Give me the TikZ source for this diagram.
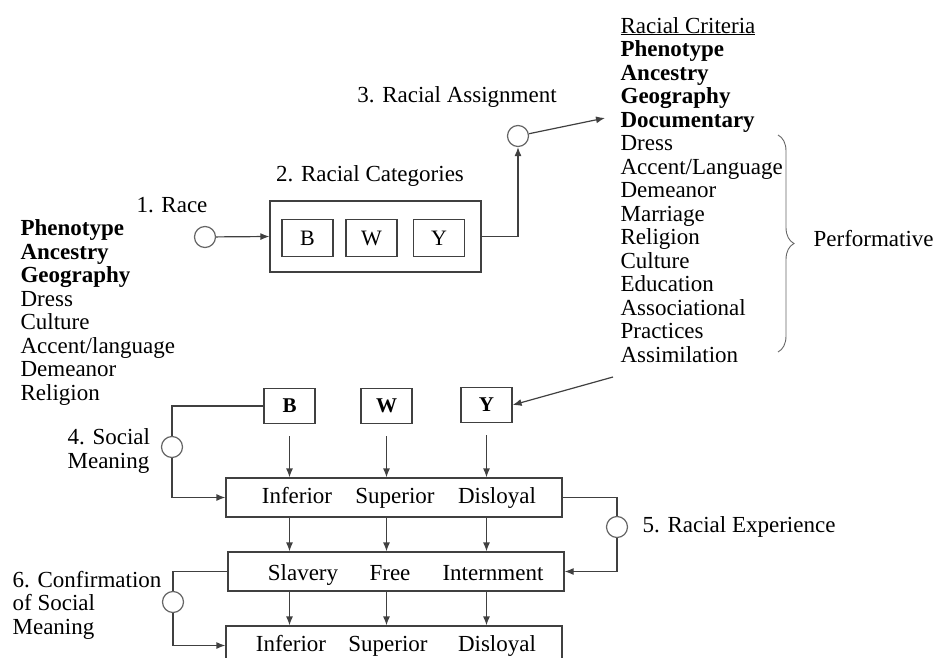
\documentclass[tikz,border=0pt]{standalone}
\usepackage{fontspec}
\setmainfont{Liberation Serif}
\usetikzlibrary{arrows.meta,decorations.pathreplacing}

\begin{document}
\begin{tikzpicture}[
  x = 1pt, y = -1pt,
  font = \fontsize{23}{23.5}\selectfont,
  ring/.style = {
    shape = circle,
    draw = black!60,
    minimum size = 21pt,
    inner sep = 0pt,
  },
  box/.style = {
    shape = rectangle,
    draw = black!75,
    inner sep = 0pt,
  },
  letter/.style = {
    box,
    minimum width = 51pt,
    minimum height = 37pt,
    font = \fontsize{22}{22}\selectfont
  },
  bar/.style = {
    box,
    minimum width = 336pt,
    minimum height = 39pt
  },
  lbl/.style = {
    inner sep = 0pt,
    align = left
  },
  link/.style = {
    draw = black!75
  },
  arr/.style = {
    link,
    -{Latex[length = 9pt, width = 7pt]}
  },
  every path/.style = {
    line width = 1.2pt
  }
]
  \useasboundingbox (0, 0) rectangle (937, 658);

  % 1. race
  \node[ring] (c1) at (205, 237) {};
  \node[lbl] (t1) at (172, 205) {1. Race};
  \node[lbl, anchor = base west] (given) at (20, 400) {\textbf{Phenotype}\\\textbf{Ancestry}\\\textbf{Geography}\\Dress\\Culture\\Accent/language\\Demeanor\\Religion};

  % 2. racial categories
  \node[box, minimum width = 211pt, minimum height = 71pt] (cats) at (375.5, 236.5) {};
  \node[letter] (cB) at (307.5, 238) {B};
  \node[letter] (cW) at (371.5, 238) {W};
  \node[letter] (cY) at (439, 238) {Y};
  \node[lbl] (t2) at (370, 176) {2. Racial Categories};

  \draw[arr] (c1) -- (cats.west);

  % 3. racial assignment
  \node[ring] (c3) at (518, 136) {};
  \node[lbl] (t3) at (457, 97) {3. Racial Assignment};
  \node[lbl, anchor = base west] (crit) at (620, 362) {\underline{Racial Criteria}\\\textbf{Phenotype}\\\textbf{Ancestry}\\\textbf{Geography}\\\textbf{Documentary}\\Dress\\Accent/Language\\Demeanor\\Marriage\\Religion\\Culture\\Education\\Associational\\Practices\\Assimilation};
  \coordinate (critin) at (605, 118);
  \coordinate (critout) at (613, 377);
  \draw[decorate, decoration = {brace, amplitude = 16pt}, draw = black!60, line width = 0.9pt] (778, 135) -- (778, 352);
  \node[lbl, anchor = west] (perf) at (813, 239) {Performative};

  \draw[arr] (cats.east) -| (c3.south);
  \draw[arr] (c3) -- (critin);

  % assigned categories
  \node[letter, minimum height = 35pt, font = \fontsize{21}{21}\selectfont\bfseries] (bB) at (289.5, 406) {B};
  \node[letter, minimum height = 35pt, font = \fontsize{21}{21}\selectfont\bfseries] (bW) at (386.5, 406) {W};
  \node[letter, minimum height = 35pt, font = \fontsize{21}{21}\selectfont\bfseries] (bY) at (486.5, 405) {Y};

  \draw[arr] (critout) -- (bY.east);

  % rows
  \node[bar] (r1) at (394, 497.5) {};
  \node[bar] (r2) at (396, 571.5) {};
  \node[bar] (r3) at (394, 645.5) {};

  \node[lbl, anchor = base] (inf1) at (297, 503) {Inferior};
  \node[lbl, anchor = base] (sup1) at (395, 503) {Superior};
  \node[lbl, anchor = base] (dis1) at (497, 503) {Disloyal};
  \node[lbl, anchor = base] (slav) at (303, 580) {Slavery};
  \node[lbl, anchor = base] (free) at (390, 580) {Free};
  \node[lbl, anchor = base] (intern) at (493, 580) {Internment};
  \node[lbl, anchor = base] (inf2) at (291, 651) {Inferior};
  \node[lbl, anchor = base] (sup2) at (388, 651) {Superior};
  \node[lbl, anchor = base] (dis2) at (497, 651) {Disloyal};

  \draw[arr, shorten <= 12pt] (bB.south) -- (bB.south |- r1.north);
  \draw[arr, shorten <= 12pt] (bW.south) -- (bW.south |- r1.north);
  \draw[arr, shorten <= 12pt] (bY.south) -- (bY.south |- r1.north);
  \draw[arr] (bB.south |- r1.south) -- (bB.south |- r2.north);
  \draw[arr] (bW.south |- r1.south) -- (bW.south |- r2.north);
  \draw[arr] (bY.south |- r1.south) -- (bY.south |- r2.north);
  \draw[arr] (bB.south |- r2.south) -- (bB.south |- r3.north);
  \draw[arr] (bW.south |- r2.south) -- (bW.south |- r3.north);
  \draw[arr] (bY.south |- r2.south) -- (bY.south |- r3.north);

  % 4. social meaning
  \node[ring] (c4) at (172, 447) {};
  \node[lbl, anchor = west] (t4) at (67, 451) {4. Social\\Meaning};
  \draw[link] (bB.west) -| (c4.north);
  \draw[arr] (c4.south) |- (r1.west);

  % 5. racial experience
  \node[ring] (c5) at (617, 527) {};
  \node[lbl, anchor = west] (t5) at (642, 527) {5. Racial Experience};
  \draw[link] (r1.east) -| (c5.north);
  \draw[arr] (c5.south) |- (r2.east);

  % 6. confirmation
  \node[ring] (c6) at (173, 602) {};
  \node[lbl, anchor = west] (t6) at (12, 605) {6. Confirmation\\of Social\\Meaning};
  \draw[link] (r2.west) -| (c6.north);
  \draw[arr] (c6.south) |- (r3.west);
\end{tikzpicture}
\end{document}
